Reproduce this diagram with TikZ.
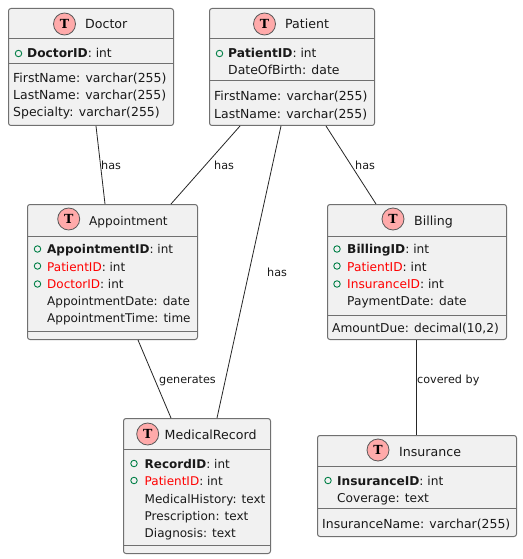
\documentclass[tikz,border=0pt]{standalone}
\usepackage{fontspec}
\setmainfont{DejaVu Sans}
\newfontfamily\iconfont{DejaVu Serif}
\definecolor{boxfill}{HTML}{F1F1F1}
\definecolor{boxline}{HTML}{707070}
\definecolor{icongreen}{HTML}{038048}
\definecolor{iconfill}{HTML}{FFAAAA}
\definecolor{fkred}{HTML}{FF0000}
\tikzset{
  classbox/.style={draw=boxline,fill=boxfill,line width=1pt,rounded corners=2.5pt,inner sep=0pt,anchor=north west},
  divider/.style={draw=boxline,line width=1pt},
  rel/.style={draw=black!85,line width=0.8pt},
  rowtext/.style={anchor=base west,inner sep=0pt,font=\fontsize{12.2}{14}\selectfont,text=black!90},
  widerow/.style={rowtext,font=\fontsize{12.45}{14}\selectfont},
  narrowrow/.style={rowtext,font=\fontsize{12}{14}\selectfont},
  titletext/.style={anchor=base west,inner sep=0pt,font=\fontsize{12.6}{14}\selectfont,text=black!90},
  lbl/.style={anchor=base west,inner sep=0pt,font=\fontsize{11.2}{12}\selectfont,text=black!90},
  ticon/.style={circle,draw=black!65,fill=iconfill,line width=0.8pt,minimum size=22pt,inner sep=0pt,font=\iconfont\bfseries\fontsize{12.5}{13}\selectfont},
  vis/.style={circle,draw=icongreen,line width=0.9pt,minimum size=6.5pt,inner sep=0pt},
}
\newcommand{\umlclass}[9]{%
  \node[classbox,minimum width=#4pt-#2pt,minimum height=#5pt-#3pt] (#1) at (#2,#3) {};
  \draw[divider] ([yshift=-#6pt+#3pt]#1.north west) -- ([yshift=-#6pt+#3pt]#1.north east);
  \draw[divider] ([yshift=-#7pt+#3pt]#1.north west) -- ([yshift=-#7pt+#3pt]#1.north east);
  \node[ticon] (#1icon) at (#8,#9) {T};
}
\newcommand{\umltitle}[4]{\node[titletext] (#1title) at (#2,#3) {#4};}
\newcommand{\umlrow}[4]{\node[rowtext] (#1) at (#2,#3) {#4};}
\newcommand{\umlwide}[4]{\node[widerow] (#1) at (#2,#3) {#4};}
\newcommand{\umlnarrow}[4]{\node[narrowrow] (#1) at (#2,#3) {#4};}
\newcommand{\umlvis}[3]{\node[vis] (#1) at (#2,#3) {};}
\newcommand{\fk}[1]{\textcolor{fkred}{#1}}
\begin{document}
\begin{tikzpicture}[x=1pt,y=-1pt]
\useasboundingbox (0,0) rectangle (522,559);
\fill[white] (0,0) rectangle (522,559);
% Doctor
\umlclass{doctor}{8}{8}{173}{125}{39}{64}{64.5}{24}
\umltitle{doctor}{85}{29}{Doctor}
\umlvis{dv1}{18.5}{53.5}
\umlrow{d1}{27}{58}{\textbf{DoctorID}: int}
\umlwide{d2}{13}{83}{FirstName: varchar(255)}
\umlwide{d3}{13}{100}{LastName: varchar(255)}
\umlwide{d4}{13}{117}{Specialty: varchar(255)}
% Patient
\umlclass{patient}{209}{8}{374}{125}{39}{81}{264.5}{24}
\umltitle{patient}{285}{29}{Patient}
\umlvis{pv1}{219.5}{53.5}
\umlrow{p1}{228}{58}{\textbf{PatientID}: int}
\umlwide{p2}{228}{75}{DateOfBirth: date}
\umlwide{p3}{214}{101}{FirstName: varchar(255)}
\umlwide{p4}{214}{118}{LastName: varchar(255)}
% Appointment
\umlclass{appointment}{27}{204}{197}{339}{236}{331}{68.7}{219}
\node[titletext,font=\fontsize{12.1}{14}\selectfont] (appointmenttitle) at (89,225) {Appointment};
\umlvis{av1}{37.5}{249}
\umlvis{av2}{37.5}{266}
\umlvis{av3}{37.5}{284}
\umlnarrow{a1}{47}{253.5}{\textbf{AppointmentID}: int}
\umlnarrow{a2}{47}{271}{\fk{PatientID}: int}
\umlnarrow{a3}{47}{288}{\fk{DoctorID}: int}
\umlnarrow{a4}{47}{305.5}{AppointmentDate: date}
\umlnarrow{a5}{47}{322.5}{AppointmentTime: time}
% Billing
\umlclass{billing}{327}{204}{506}{339}{236}{315}{393}{219}
\umltitle{billing}{414}{225}{Billing}
\umlvis{bv1}{337}{249}
\umlvis{bv2}{337}{266}
\umlvis{bv3}{337}{284}
\umlrow{b1}{347}{253.5}{\textbf{BillingID}: int}
\umlrow{b2}{347}{271}{\fk{PatientID}: int}
\umlrow{b3}{347}{288}{\fk{InsuranceID}: int}
\umlrow{b4}{347}{305.5}{PaymentDate: date}
\umlrow{b5}{332}{332}{AmountDue: decimal(10,2)}
% MedicalRecord
\umlclass{medical}{123}{418}{270}{553}{449}{545}{147.7}{434}
\umltitle{medical}{164.5}{439}{MedicalRecord}
\umlvis{mv1}{134}{463.5}
\umlvis{mv2}{134}{480.5}
\umlnarrow{m1}{144.5}{468}{\textbf{RecordID}: int}
\umlnarrow{m2}{144.5}{485}{\fk{PatientID}: int}
\umlnarrow{m3}{144.5}{503}{MedicalHistory: text}
\umlnarrow{m4}{144.5}{520}{Prescription: text}
\umlnarrow{m5}{144.5}{537}{Diagnosis: text}
% Insurance
\umlclass{insurance}{317}{435}{516}{536}{466}{508}{378}{450}
\umltitle{insurance}{399}{456}{Insurance}
\umlvis{iv1}{328}{480.5}
\umlrow{i1}{337}{485}{\textbf{InsuranceID}: int}
\umlrow{i2}{337}{502}{Coverage: text}
\umlwide{i3}{322}{528}{InsuranceName: varchar(255)}
% Relations
\draw[rel] ([xshift=88pt]doctor.south west) -- ([xshift=78pt]appointment.north west);
\draw[rel] ([xshift=31pt]patient.south west) -- ([xshift=144pt]appointment.north west);
\draw[rel] ([xshift=72pt]patient.south west) -- ([xshift=94pt]medical.north west);
\draw[rel] ([xshift=117pt]patient.south west) -- ([xshift=49pt]billing.north west);
\draw[rel] ([xshift=111pt]appointment.south west) -- ([xshift=48pt]medical.north west);
\draw[rel] ([xshift=89pt]billing.south west) -- ([xshift=99pt]insurance.north west);
% Labels
\node[lbl] (l1) at (101,169) {has};
\node[lbl] (l2) at (214,169) {has};
\node[lbl] (l3) at (355,169) {has};
\node[lbl] (l4) at (267,276) {has};
\node[lbl] (l5) at (159,383) {generates};
\node[lbl] (l6) at (417,383) {covered by};
\end{tikzpicture}
\end{document}
